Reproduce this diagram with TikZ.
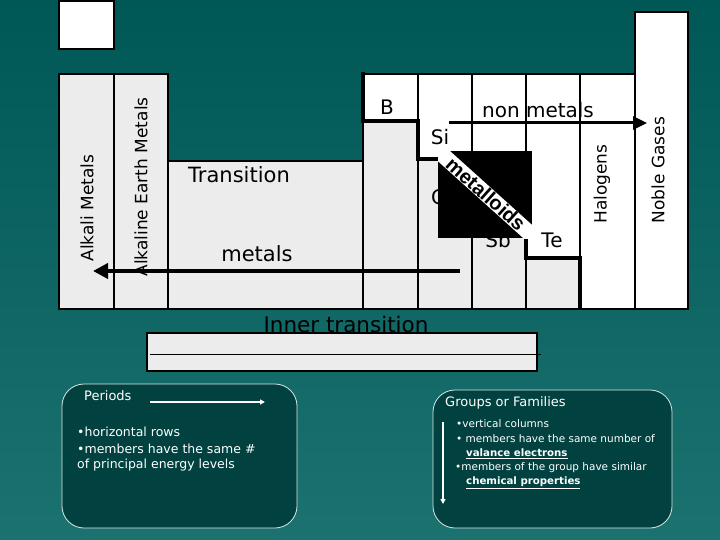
\documentclass[tikz,border=0pt]{standalone}
\usepackage{fontspec}
\setmainfont{DejaVu Sans}
\usetikzlibrary{arrows.meta, positioning}
\definecolor{slideteal}{RGB}{2,98,95}
\definecolor{slidetop}{RGB}{0,88,86}
\definecolor{boxteal}{RGB}{1,66,64}
\definecolor{cellgray}{RGB}{236,236,236}
\tikzset{
    thinline/.style={draw=black, line width=1.5pt},
    stairline/.style={draw=black, line width=4pt},
    label/.style={inner sep=0pt, font=\fontsize{20}{20}\selectfont},
    sidelabel/.style={inner sep=0pt, rotate=90, font=\fontsize{17}{17}\selectfont},
    infobox/.style={draw=white!85!slideteal, line width=0.8pt, fill=boxteal, rounded corners=22pt},
    infotext/.style={inner sep=0pt, anchor=west, text=white, font=\fontsize{12.5}{12.5}\selectfont},
}

\begin{document}
\begin{tikzpicture}[x=1pt, y=-1pt]
            \useasboundingbox (0, 0) rectangle (720, 540);
            \shade[top color=slidetop, bottom color=slideteal!90!white] (0, 0) rectangle (720, 540);

            % hydrogen box
            \filldraw[fill=white, line width=1.6pt] (59, 1) rectangle (114, 49);

            % metal side
            \fill[cellgray] (59, 74) rectangle (168, 309);
            \fill[cellgray] (168, 161) rectangle (363, 309);
            \fill[cellgray] (363, 121) -- (418, 121) -- (418, 159) -- (472, 159) -- (472, 205) -- (526, 205)
                -- (526, 258) -- (580, 258) -- (580, 309) -- (363, 309) -- cycle;
            % non metal side
            \fill[white] (363, 74) -- (635, 74) -- (635, 309) -- (580, 309) -- (580, 258) -- (526, 258)
                -- (526, 205) -- (472, 205) -- (472, 159) -- (418, 159) -- (418, 121) -- (363, 121) -- cycle;
            \fill[white] (635, 12) rectangle (688, 309);

            \node[sidelabel] (alkali) at (87, 208) {Alkali Metals};
            \node[sidelabel] (alkearth) at (141, 187) {Alkaline Earth Metals};
            \node[label, font=\fontsize{21}{21}\selectfont] (trans) at (239, 175) {Transition};
            \node[label, font=\fontsize{21}{21}\selectfont] (metals) at (257, 254) {metals};
            \node[label] (boron) at (387, 107) {B};
            \node[label] (silicon) at (440, 137) {Si};
            \node[label] (germanium) at (445, 197) {Ge};
            \node[label] (antimony) at (498, 240) {Sb};
            \node[label] (tellurium) at (552, 240) {Te};
            \node[label] (nonmet) at (538, 110) {non metals};
            \node[sidelabel] (halogen) at (602, 184) {Halogens};
            \node[sidelabel] (noble) at (658, 170) {Noble Gases};

            % grid
            \draw[thinline] (59, 74) -- (168, 74) -- (168, 161) -- (363, 161) -- (363, 74) -- (635, 74)
                -- (635, 12) -- (688, 12) -- (688, 309) -- (59, 309) -- cycle;
            \draw[thinline] (114, 74) -- (114, 309);
            \draw[thinline] (168, 161) -- (168, 309);
            \foreach \xx in {418, 472, 526, 580, 635}
                \draw[thinline] (\xx, 74) -- (\xx, 309);
            \draw[thinline] (363, 121) -- (363, 309);
            \draw[stairline] (363, 72) -- (363, 121) -- (418, 121) -- (418, 159) -- (472, 159)
                -- (472, 205) -- (526, 205) -- (526, 258) -- (580, 258) -- (580, 308);

            % arrows
            \coordinate (metStart) at (460, 271);
            \coordinate (metEnd) at (93, 271);
            \draw[line width=4pt, -{Triangle[length=15pt, width=15pt]}] (metStart) -- (metEnd);
            \coordinate (nonStart) at (449, 123);
            \coordinate (nonEnd) at (647, 123);
            \draw[line width=3pt, -{Triangle[length=14pt, width=13pt]}] (nonStart) -- (nonEnd);

            % metalloid patch
            \fill[black] (438, 151) rectangle (532, 238);
            \begin{scope}
                \clip (438, 151) rectangle (532, 238);
                \node[fill=white, rotate=-42, minimum width=150pt, inner sep=0.5pt,
                    font=\fontspec{Liberation Sans}\bfseries\fontsize{20}{20}\selectfont] (metalloid) at (486, 194) {metalloids};
            \end{scope}

            % inner transition
            \node[label, font=\fontsize{21.5}{21.5}\selectfont] (inner) at (346, 324) {Inner transition};
            \filldraw[fill=cellgray, line width=1.8pt] (147, 333) rectangle (537, 371);
            \draw[line width=1pt] (150, 354) -- (541, 354);

            % periods
            \draw[infobox] (62, 384) rectangle (297, 528);
            \node[infotext, font=\fontsize{13}{13}\selectfont] (periods) at (84, 396) {Periods};
            \coordinate (perStart) at (150, 402);
            \coordinate (perEnd) at (265, 402);
            \draw[white, line width=1.5pt, -{Triangle[length=5pt, width=5pt]}] (perStart) -- (perEnd);
            \node[infotext] (per1) at (77, 432) {•horizontal rows};
            \node[infotext] (per2) at (77, 449) {•members have the same \#};
            \node[infotext] (per3) at (77, 465) {of principal energy levels};

            % groups
            \draw[infobox] (433, 390) rectangle (672, 528);
            \node[infotext, font=\fontsize{13}{13}\selectfont] (groups) at (445, 403) {Groups or Families};
            \coordinate (grpStart) at (443, 422);
            \coordinate (grpEnd) at (443, 504);
            \draw[white, line width=1.3pt, -{Triangle[length=5pt, width=5pt]}] (grpStart) -- (grpEnd);
            \node[infotext, font=\fontsize{10.5}{10.5}\selectfont] (grp1) at (456, 424) {•vertical columns};
            \node[infotext, font=\fontsize{10.5}{10.5}\selectfont] (grp2) at (456, 439) {• members have the same number of};
            \node[infotext, font=\fontsize{10.2}{10.5}\selectfont\bfseries] (grp3) at (466, 454) {\underline{valance electrons}};
            \node[infotext, font=\fontsize{10.5}{10.5}\selectfont] (grp4) at (455, 468) {•members of the group have similar};
            \node[infotext, font=\fontsize{10.2}{10.5}\selectfont\bfseries] (grp5) at (466, 483) {\underline{chemical properties}};
        \end{tikzpicture}
\end{document}
